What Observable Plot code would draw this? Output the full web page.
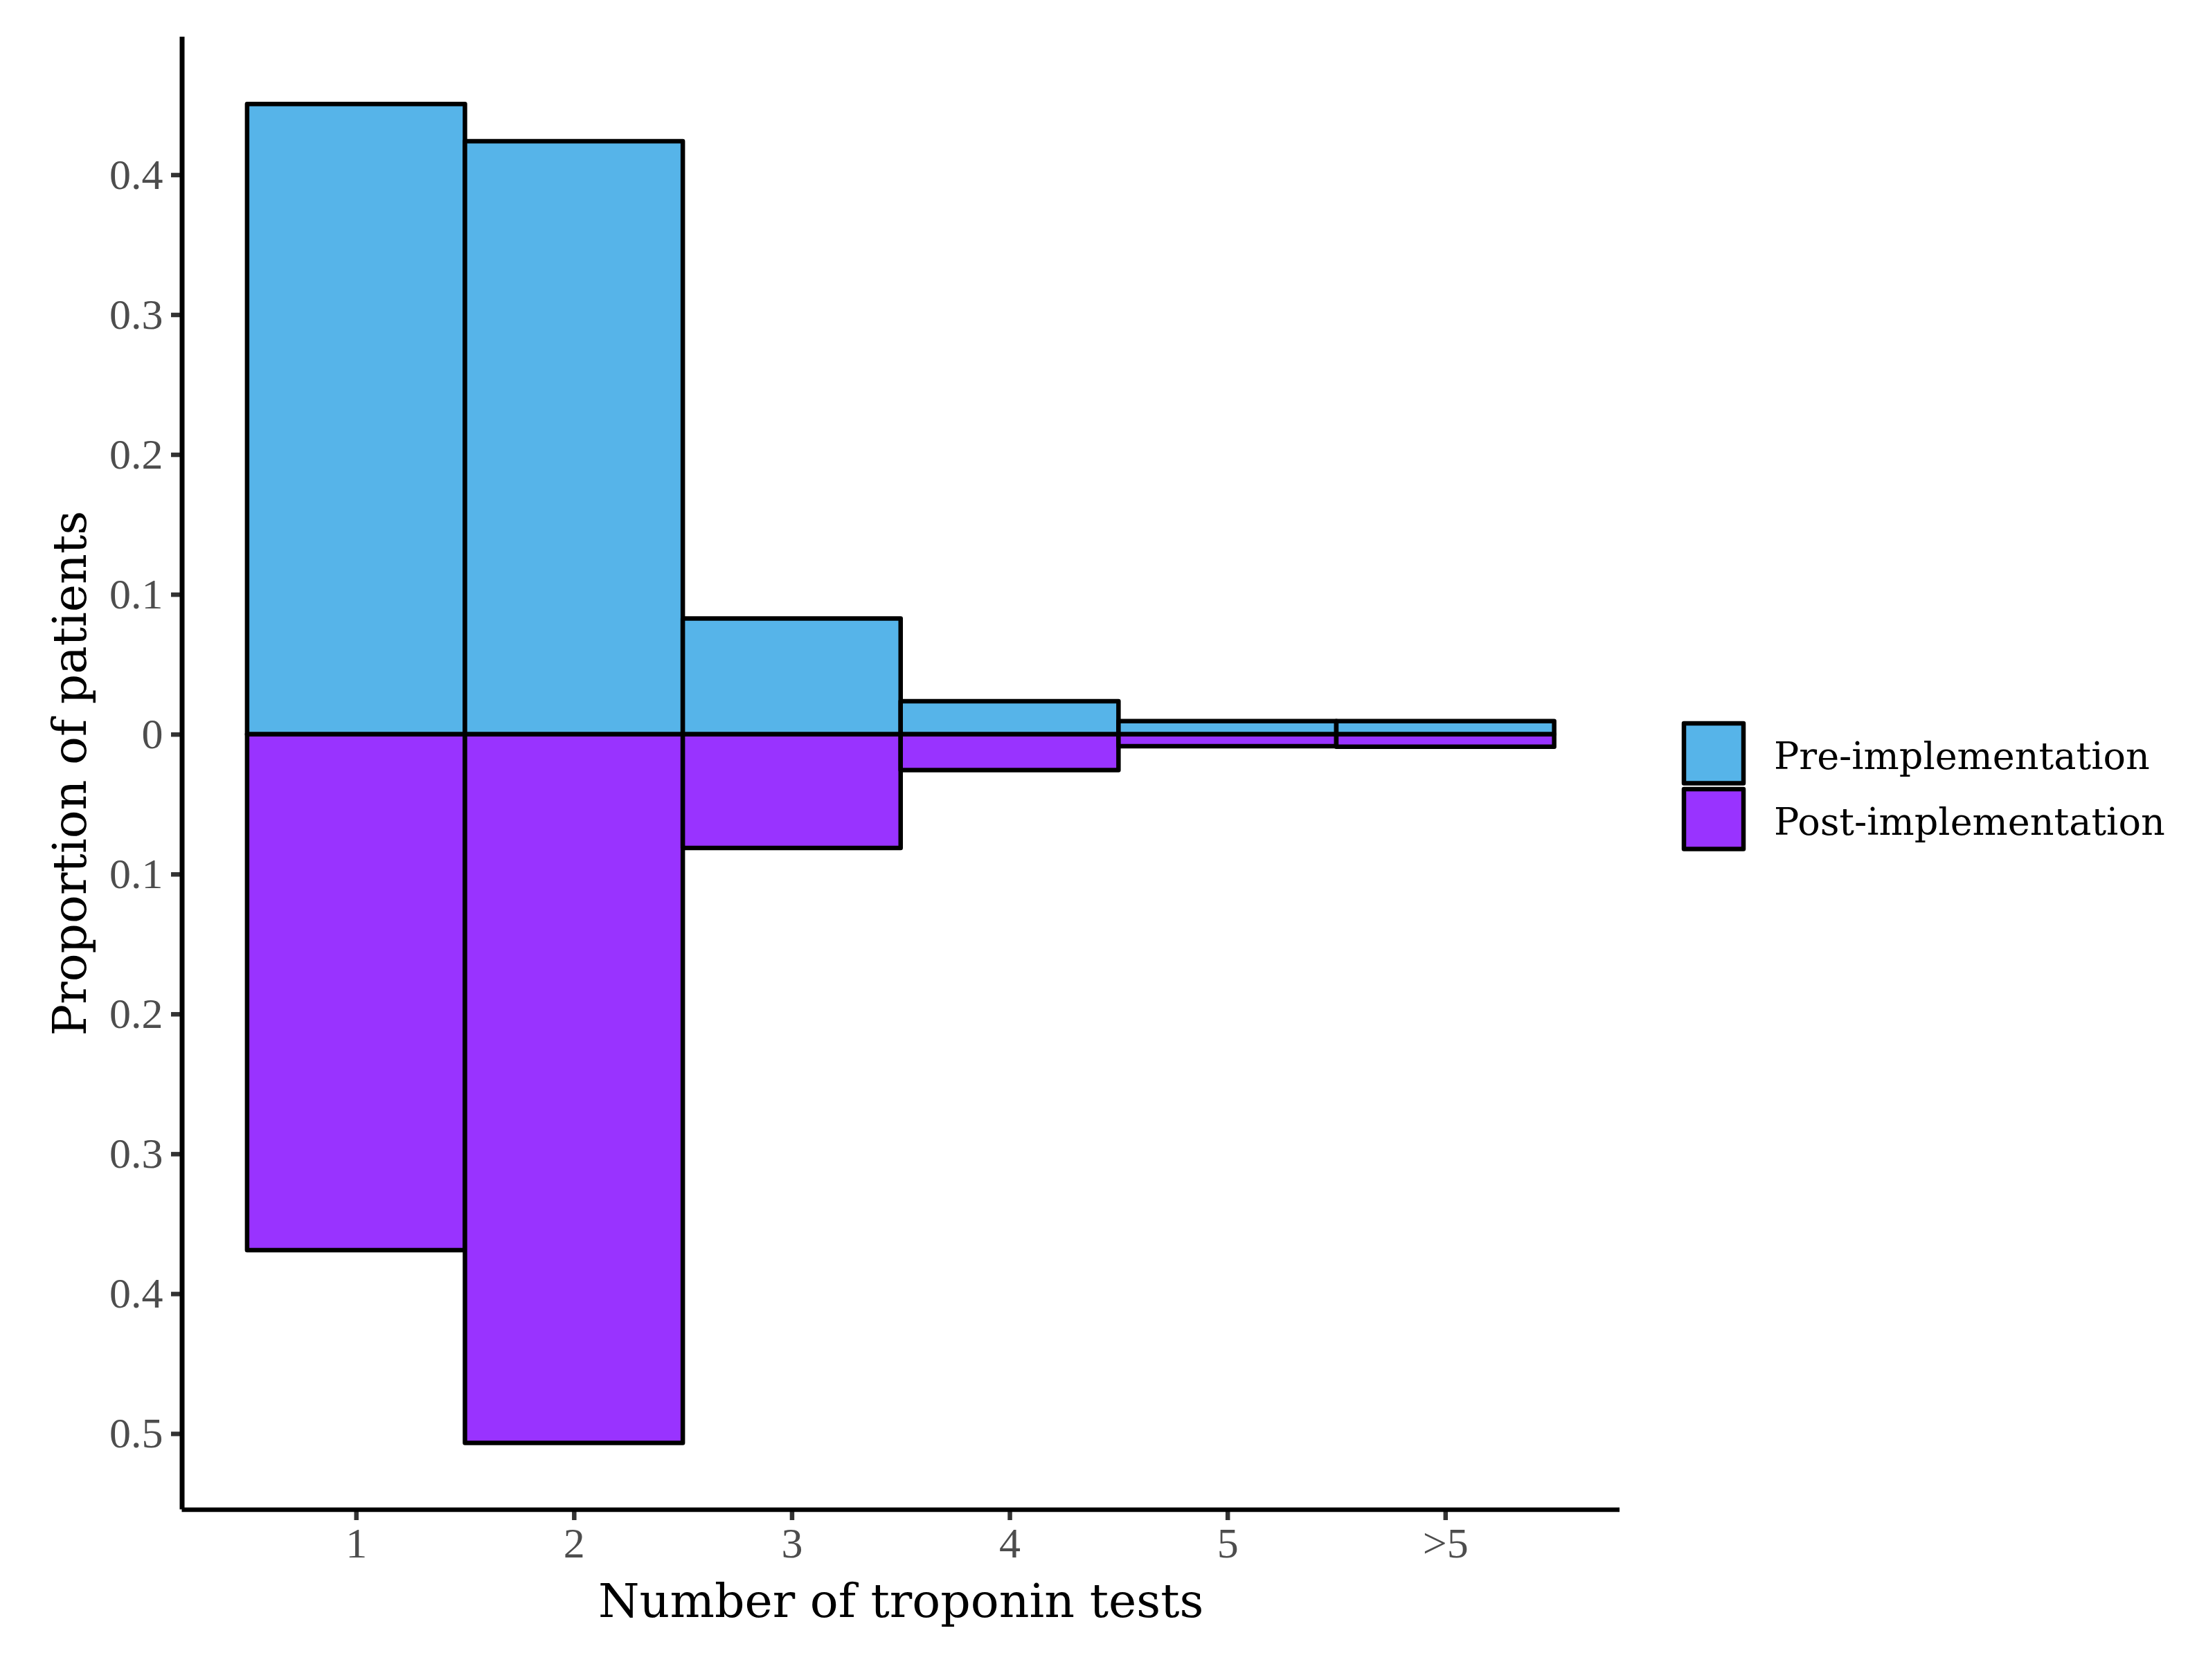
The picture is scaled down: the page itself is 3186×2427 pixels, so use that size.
<!DOCTYPE html>
<html><head><meta charset="utf-8">
<script src="https://cdn.jsdelivr.net/npm/d3@7"></script>
<script src="https://cdn.jsdelivr.net/npm/@observablehq/plot@0.6"></script>
<style>
body{margin:0;background:#fff}
#wrap{position:relative;width:3186px;height:2427px;background:#fff}
#legend{position:absolute;left:2420px;top:1030px}
</style>
</head><body><div id="wrap"></div>
<script>
const categories = ["1", "2", "3", "4", "5", ">5"];
const preValues  = [0.4506, 0.4240, 0.0827, 0.0236, 0.0094, 0.0094];
const postValues = [0.3688, 0.5067, 0.0813, 0.0256, 0.0086, 0.0089];
const groups = ["Pre-implementation", "Post-implementation"];
const groupColors = ["#56B4E9", "#9933FF"];
const yTicks = [-0.5, -0.4, -0.3, -0.2, -0.1, 0, 0.1, 0.2, 0.3, 0.4];
const xTitle = "Number of troponin tests";
const yTitle = "Proportion of patients";

const xDomain = [0.2, 6.8];
const yDomain = [-0.5542, 0.4987];

const rows = [];
categories.forEach((c, i) => {
  rows.push({cat: c, i, group: groups[0], v: preValues[i]});
  rows.push({cat: c, i, group: groups[1], v: -postValues[i]});
});

const serif = "'DejaVu Serif', serif";
const tickFont = "'Liberation Serif', serif";

const chart = Plot.plot({
  width: 3186, height: 2427,
  marginLeft: 262.5, marginRight: 847, marginTop: 53, marginBottom: 246.5,
  style: {background: "#fff", fontFamily: tickFont},
  x: {type: "linear", domain: xDomain, axis: null},
  y: {domain: yDomain, axis: null},
  color: {domain: groups, range: groupColors},
  marks: [
    Plot.rectY(rows, {
      x1: d => d.i + 0.5, x2: d => d.i + 1.5, y1: 0, y2: "v",
      fill: "group", stroke: "#000", strokeWidth: 6.5, strokeLinejoin: "round"
    }),
    Plot.axisY({
      ticks: yTicks, tickFormat: d => String(Math.abs(d)),
      tickSize: 15.5, tickPadding: 12, fontSize: 62, fontFamily: tickFont,
      fill: "#4D4D4D", stroke: "#333333", strokeWidth: 6.5, label: null
    }),
    Plot.axisX({
      ticks: categories.map((c, i) => i + 1), tickFormat: d => categories[d - 1],
      tickSize: 15.5, tickPadding: 9, fontSize: 62, fontFamily: tickFont,
      fill: "#4D4D4D", stroke: "#333333", strokeWidth: 6.5, label: null
    }),
    Plot.ruleX([xDomain[0]], {stroke: "#000", strokeWidth: 7}),
    Plot.ruleY([yDomain[0]], {stroke: "#000", strokeWidth: 6.5}),
    Plot.text([xTitle], {
      text: d => d, frameAnchor: "bottom", dy: 154.5, lineAnchor: "bottom",
      fontSize: 68, fontFamily: serif, fill: "#000"
    }),
    Plot.text([yTitle], {
      text: d => d, frameAnchor: "left", rotate: -90, dx: -139, lineAnchor: "bottom",
      textAnchor: "middle", fontSize: 68, fontFamily: serif, fill: "#000"
    })
  ]
});

const wrap = document.getElementById("wrap");
wrap.appendChild(chart);

// legend
const legend = d3.create("svg")
  .attr("id", "legend")
  .attr("width", 760).attr("height", 230);
const item = legend.selectAll("g").data(groups).join("g")
  .attr("transform", (d, i) => `translate(0,${i * 95})`);
item.append("rect")
  .attr("x", 12).attr("y", 15).attr("width", 86).attr("height", 86.5)
  .attr("fill", (d, i) => groupColors[i])
  .attr("stroke", "#000").attr("stroke-width", 6.5).attr("stroke-linejoin", "round");
item.append("text")
  .attr("x", 142).attr("y", 81)
  .attr("font-family", serif).attr("font-size", 54).attr("fill", "#000")
  .text(d => d);
wrap.appendChild(legend.node());
</script>
</body></html>
